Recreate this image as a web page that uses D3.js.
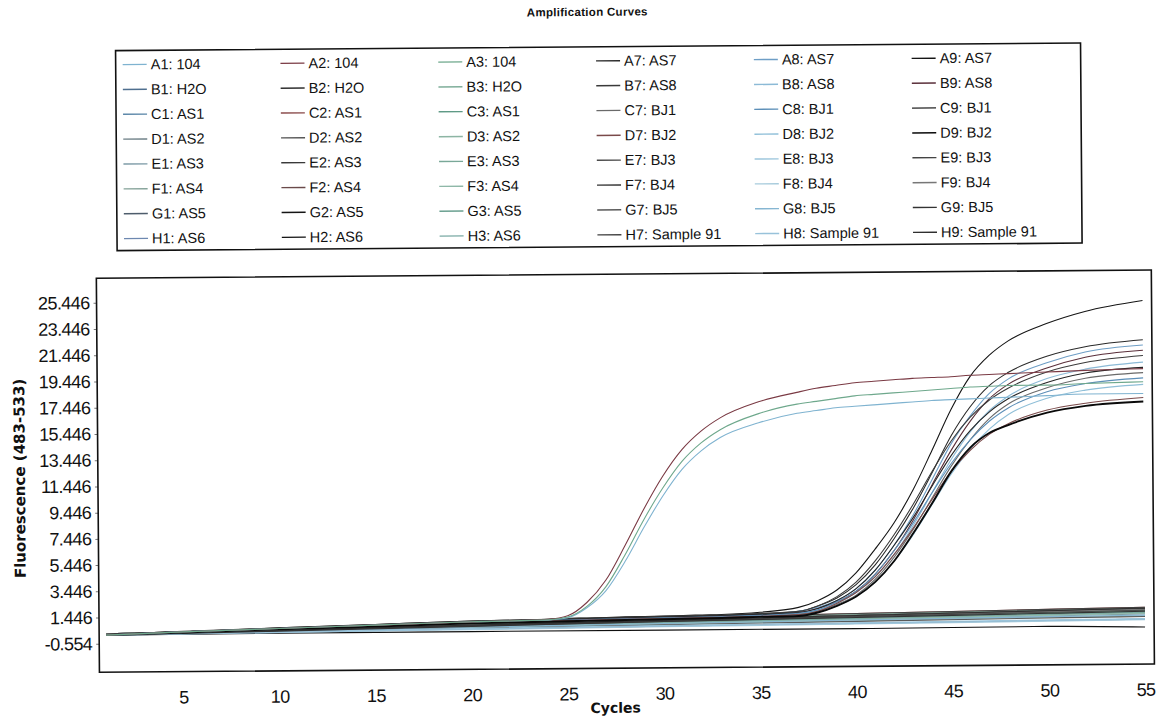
<!DOCTYPE html>
<html><head><meta charset="utf-8">
<script src="https://cdn.jsdelivr.net/npm/d3@7"></script>
<style>
body{margin:0;background:#fff;}
svg{display:block;}
</style></head>
<body><svg id="chart" width="1162" height="719"></svg>
<script>
// ---------------- DATA ----------------
const chartTitle = "Amplification Curves";
const xTitle = "Cycles";
const yTitle = "Fluorescence (483-533)";
const rowLetters = ["A","B","C","D","E","F","G","H"];
const legendColumns = ["1","2","3","7","8","9"];
const samplesLeft = ["104","H2O","AS1","AS2","AS3","AS4","AS5","AS6"];
const samplesRight = ["AS7","AS8","BJ1","BJ2","BJ3","BJ4","BJ5","Sample 91"];
const xTicks = [5,10,15,20,25,30,35,40,45,50,55];
const yTicks = [-0.554,1.446,3.446,5.446,7.446,9.446,11.446,13.446,15.446,17.446,19.446,21.446,23.446,25.446];

// cycles at which the amplifying curves were read
const cycles = [1,5,10,15,20,24,25,26,27,28,29,30,31,32,33,35,37,38,39,40,41,42,43,44,45,46,47,48,50,52,55];

const earlyWells = ["A1","A2","A3"];
const earlyValues = [
  [0.1,0.3,0.5,0.7,0.9,1.0,1.15,1.9,3.2,5.4,8.0,10.4,12.4,13.8,14.8,15.9,16.6,16.8,17.0,17.1,17.2,17.3,17.4,17.5,17.55,17.6,17.65,17.7,17.8,17.9,17.9],
  [0.1,0.3,0.5,0.7,0.9,1.05,1.3,2.3,4.0,6.6,9.4,11.9,13.9,15.3,16.3,17.5,18.2,18.5,18.7,18.9,19.0,19.1,19.2,19.25,19.3,19.4,19.45,19.5,19.6,19.7,19.8],
  [0.1,0.3,0.5,0.7,0.9,1.0,1.2,2.0,3.5,5.9,8.6,11.0,13.0,14.4,15.4,16.6,17.3,17.5,17.7,17.9,18.0,18.1,18.2,18.3,18.4,18.5,18.55,18.6,18.6,18.7,18.8]
];

const lateWells = ["A9","A7","A8","B9","B7","B8","C9","C7","C8","D8","D7","D9"];
const lateValues = [
  [0.15,0.3,0.55,0.75,0.95,1.05,1.1,1.12,1.15,1.18,1.2,1.22,1.25,1.28,1.3,1.45,1.8,2.3,3.1,4.4,6.2,8.2,10.7,13.7,16.8,19.3,20.9,22.0,23.3,24.2,25.0],
  [0.15,0.3,0.5,0.7,0.9,1.0,1.05,1.05,1.08,1.1,1.12,1.15,1.18,1.2,1.22,1.35,1.5,1.9,2.5,3.5,5.0,7.0,9.3,12.0,14.8,17.0,18.6,19.6,20.8,21.5,22.0],
  [0.1,0.25,0.45,0.65,0.85,0.95,1.0,1.02,1.05,1.08,1.1,1.12,1.15,1.18,1.2,1.3,1.5,1.8,2.3,3.2,4.6,6.5,8.8,11.5,14.2,16.3,18.0,19.1,20.3,21.1,21.6],
  [0.1,0.3,0.5,0.7,0.88,0.98,1.0,1.03,1.05,1.08,1.1,1.12,1.14,1.16,1.18,1.28,1.4,1.7,2.2,3.0,4.3,6.1,8.4,11.1,13.7,15.9,17.6,18.7,19.9,20.7,21.2],
  [0.15,0.35,0.55,0.75,0.95,1.05,1.08,1.1,1.12,1.15,1.18,1.2,1.22,1.24,1.26,1.35,1.5,1.9,2.6,3.7,5.3,7.3,9.6,12.1,14.4,16.2,17.5,18.4,19.6,20.3,20.8],
  [0.1,0.25,0.45,0.62,0.8,0.9,0.92,0.95,0.98,1.0,1.02,1.05,1.08,1.1,1.12,1.2,1.3,1.6,2.1,2.9,4.1,5.8,8.0,10.5,13.0,15.1,16.7,17.8,19.1,19.8,20.3],
  [0.12,0.3,0.5,0.7,0.9,1.0,1.02,1.05,1.08,1.1,1.12,1.14,1.16,1.18,1.2,1.28,1.4,1.7,2.3,3.2,4.6,6.5,8.6,11.0,13.3,15.2,16.6,17.6,18.8,19.5,19.9],
  [0.1,0.25,0.42,0.6,0.78,0.88,0.9,0.92,0.95,0.97,1.0,1.02,1.04,1.06,1.08,1.15,1.25,1.5,2.0,2.7,3.9,5.6,7.7,10.1,12.5,14.5,16.1,17.2,18.4,19.1,19.5],
  [0.12,0.3,0.5,0.68,0.86,0.95,0.98,1.0,1.02,1.04,1.06,1.08,1.1,1.12,1.14,1.22,1.35,1.6,2.2,3.0,4.3,6.1,8.2,10.5,12.7,14.5,15.9,16.9,18.1,18.7,19.1],
  [0.1,0.25,0.45,0.62,0.8,0.88,0.9,0.92,0.94,0.96,0.98,1.0,1.02,1.04,1.06,1.12,1.2,1.4,1.9,2.6,3.7,5.3,7.3,9.6,11.9,13.8,15.3,16.4,17.6,18.2,18.6],
  [0.12,0.28,0.48,0.66,0.84,0.92,0.94,0.96,0.98,1.0,1.02,1.04,1.06,1.08,1.1,1.15,1.25,1.5,2.1,2.9,4.1,5.8,7.8,10.0,12.1,13.7,14.9,15.7,16.7,17.2,17.6],
  [0.1,0.25,0.45,0.6,0.78,0.86,0.88,0.9,0.92,0.94,0.96,0.98,1.0,1.02,1.04,1.1,1.15,1.4,1.9,2.6,3.7,5.3,7.4,9.7,12.1,13.9,15.0,15.6,16.5,17.0,17.3]
];

// cycles at which the non-amplifying curves were read
const flatCycles = [1,10,20,30,40,50,55];
const flatWells = ["B1","C1","D1","E1","F1","G1","H1","B2","C2","D2","E2","F2","G2","H2","B3","C3","D3","E3","F3","G3","H3","E7","F7","G7","H7","E8","F8","G8","H8","E9","F9","G9","H9"];
const flatValues = [
  [0.15,0.35,0.6,0.85,1.05,1.25,1.35],
  [0.1,0.3,0.55,0.8,1.0,1.2,1.3],
  [0.2,0.4,0.7,0.95,1.15,1.35,1.45],
  [0.15,0.3,0.5,0.7,0.85,1.0,1.1],
  [0.1,0.25,0.45,0.6,0.75,0.9,0.95],
  [0.2,0.45,0.75,1.0,1.2,1.4,1.5],
  [0.15,0.35,0.65,0.9,1.1,1.3,1.4],
  [0.1,0.3,0.6,0.85,1.1,1.35,1.5],
  [0.2,0.45,0.8,1.05,1.3,1.5,1.6],
  [0.15,0.35,0.6,0.8,1.0,1.2,1.3],
  [0.1,0.2,0.35,0.45,0.55,0.65,0.7],
  [0.15,0.3,0.55,0.75,0.95,1.15,1.25],
  [0.2,0.4,0.7,0.95,1.2,1.4,1.5],
  [0.1,0.15,0.15,0.15,0.15,0.2,0.1],
  [0.15,0.35,0.6,0.85,1.05,1.25,1.35],
  [0.1,0.3,0.55,0.75,0.95,1.15,1.25],
  [0.2,0.45,0.75,1.0,1.25,1.45,1.55],
  [0.15,0.3,0.5,0.7,0.9,1.1,1.2],
  [0.1,0.25,0.45,0.65,0.85,1.05,1.15],
  [0.15,0.4,0.7,0.95,1.15,1.35,1.45],
  [0.2,0.35,0.55,0.75,0.95,1.15,1.25],
  [0.1,0.3,0.55,0.8,1.05,1.3,1.4],
  [0.15,0.35,0.65,0.9,1.15,1.4,1.5],
  [0.1,0.25,0.4,0.55,0.7,0.85,0.9],
  [0.2,0.45,0.8,1.1,1.3,1.5,1.6],
  [0.15,0.25,0.4,0.5,0.6,0.7,0.75],
  [0.1,0.2,0.3,0.4,0.5,0.6,0.65],
  [0.15,0.3,0.5,0.65,0.8,0.95,1.0],
  [0.1,0.2,0.35,0.45,0.55,0.65,0.7],
  [0.15,0.35,0.6,0.85,1.1,1.3,1.4],
  [0.2,0.4,0.7,0.95,1.15,1.35,1.45],
  [0.1,0.3,0.55,0.8,1.0,1.2,1.3],
  [0.15,0.35,0.65,0.9,1.15,1.4,1.55]
];

// ---------------- STYLE ----------------
const wellColors = {
  A1:"#7fb3d0",B1:"#4f6f8f",C1:"#5a86a8",D1:"#6d7f86",E1:"#7c9aa6",F1:"#86a39a",G1:"#4e5d6c",H1:"#6d88b0",
  A2:"#7a3a44",B2:"#2f2f2f",C2:"#8a4a4a",D2:"#555555",E2:"#3a3a3a",F2:"#6a4a4a",G2:"#151515",H2:"#101010",
  A3:"#6ea88c",B3:"#7fae9a",C3:"#5f9a86",D3:"#8db5a4",E3:"#79a898",F3:"#8fb8a8",G3:"#6aa090",H3:"#7aaaa4",
  A7:"#2a2a2a",B7:"#3a3a3a",C7:"#6a6a6a",D7:"#7a4a4a",E7:"#4a4a4a",F7:"#333333",G7:"#5a5a5a",H7:"#444444",
  A8:"#6e9ec6",B8:"#8cbad6",C8:"#5c8fb8",D8:"#8fbfd8",E8:"#9cc6dc",F8:"#a7cbdc",G8:"#86b6d2",H8:"#98c2da",
  A9:"#151515",B9:"#5a2f3a",C9:"#252525",D9:"#0a0a0a",E9:"#444444",F9:"#777777",G9:"#333333",H9:"#2f2f2f"
};
const thickWells = {D9:1.9};
const tickFont = "'Liberation Sans',Arial,sans-serif";

const plot = {left:97, top:274.5, right:1152, bottom:668.5};
const svg = d3.select("#chart");
const root = svg.append("g").attr("transform","rotate(-0.45,581,360)");

const x = d3.scaleLinear().domain([0.64,55.47]).range([plot.left,plot.right]);
const y = d3.scaleLinear().domain([-2.554,27.446]).range([666.2,272.8]);

// title
root.append("text").attr("x",590).attr("y",16).attr("text-anchor","middle")
  .style("font-family","'Liberation Sans',Arial,sans-serif").style("font-weight","bold")
  .style("font-size","11.5px").style("letter-spacing","0.3px").attr("fill","#111").text(chartTitle);

// legend
const legendBox = {x:118, y:47, w:965, h:200};
root.append("rect").attr("x",legendBox.x).attr("y",legendBox.y).attr("width",legendBox.w).attr("height",legendBox.h)
  .attr("fill","none").attr("stroke","#111").attr("stroke-width",1.6);
const colX = d3.scalePoint().domain(legendColumns).range([125,914]);
const rowY = d3.scalePoint().domain(rowLetters).range([61,235]);
const legendItems = [];
legendColumns.forEach((c,ci)=>{
  rowLetters.forEach((r,ri)=>{
    const well = r+c;
    const name = ci<3 ? samplesLeft[ri] : samplesRight[ri];
    legendItems.push({well, label: well+": "+name, col:c, row:r});
  });
});
const lg = root.append("g").selectAll("g").data(legendItems).join("g")
  .attr("transform",d=>`translate(${colX(d.col)},${rowY(d.row)})`);
lg.append("line").attr("x1",0).attr("x2",24).attr("y1",0).attr("y2",0)
  .attr("stroke",d=>wellColors[d.well]).attr("stroke-width",1.4);
lg.append("text").attr("x",28).attr("y",5)
  .style("font-family","'Liberation Sans',Arial,sans-serif").style("font-size","14.5px")
  .attr("fill","#111").text(d=>d.label);

// clip
root.append("clipPath").attr("id","clip").append("rect")
  .attr("x",plot.left).attr("y",plot.top).attr("width",plot.right-plot.left).attr("height",plot.bottom-plot.top);

const line = d3.line().x(d=>x(d[0])).y(d=>y(d[1])).curve(d3.curveMonotoneX);
const curves = root.append("g").attr("clip-path","url(#clip)");

const series = [];
flatWells.forEach((w,i)=>series.push({well:w, pts: flatCycles.map((c,j)=>[c,flatValues[i][j]])}));
lateWells.forEach((w,i)=>series.push({well:w, pts: cycles.map((c,j)=>[c,lateValues[i][j]])}));
earlyWells.forEach((w,i)=>series.push({well:w, pts: cycles.map((c,j)=>[c,earlyValues[i][j]])}));

curves.selectAll("path").data(series).join("path")
  .attr("d",d=>line(d.pts)).attr("fill","none")
  .attr("stroke",d=>wellColors[d.well]).attr("stroke-width",d=>thickWells[d.well]||1.1);

// axes
const yAxis = root.append("g").attr("transform",`translate(${plot.left},0)`)
  .call(d3.axisLeft(y).tickValues(yTicks).tickFormat(d=>d.toFixed(3)).tickSizeInner(3).tickSizeOuter(0).tickPadding(4));
yAxis.select(".domain").remove();
yAxis.selectAll("line").attr("stroke","#777");
yAxis.selectAll("text").style("font-family",tickFont)
  .style("font-size","18px").style("letter-spacing","-0.6px").attr("fill","#111");

const xAxis = root.append("g").attr("transform",`translate(0,${plot.bottom})`)
  .call(d3.axisBottom(x).tickValues(xTicks).tickFormat(d3.format("d")).tickSize(0).tickPadding(19));
xAxis.select(".domain").remove();
xAxis.selectAll("text").style("font-family",tickFont)
  .style("font-size","18px").style("letter-spacing","-0.6px").attr("fill","#111");

// plot frame
root.append("rect").attr("x",plot.left).attr("y",plot.top).attr("width",plot.right-plot.left).attr("height",plot.bottom-plot.top)
  .attr("fill","none").attr("stroke","#111").attr("stroke-width",1.6);

// axis titles
root.append("text").attr("x",613).attr("y",713).attr("text-anchor","middle")
  .style("font-family","'DejaVu Sans',sans-serif").style("font-weight","bold").style("font-size","14px")
  .attr("fill","#111").text(xTitle);
root.append("text").attr("transform","translate(24,474) rotate(-90)").attr("text-anchor","middle")
  .style("font-family","'DejaVu Sans',sans-serif").style("font-weight","bold").style("font-size","15px")
  .attr("fill","#111").text(yTitle);
</script>
</body></html>
